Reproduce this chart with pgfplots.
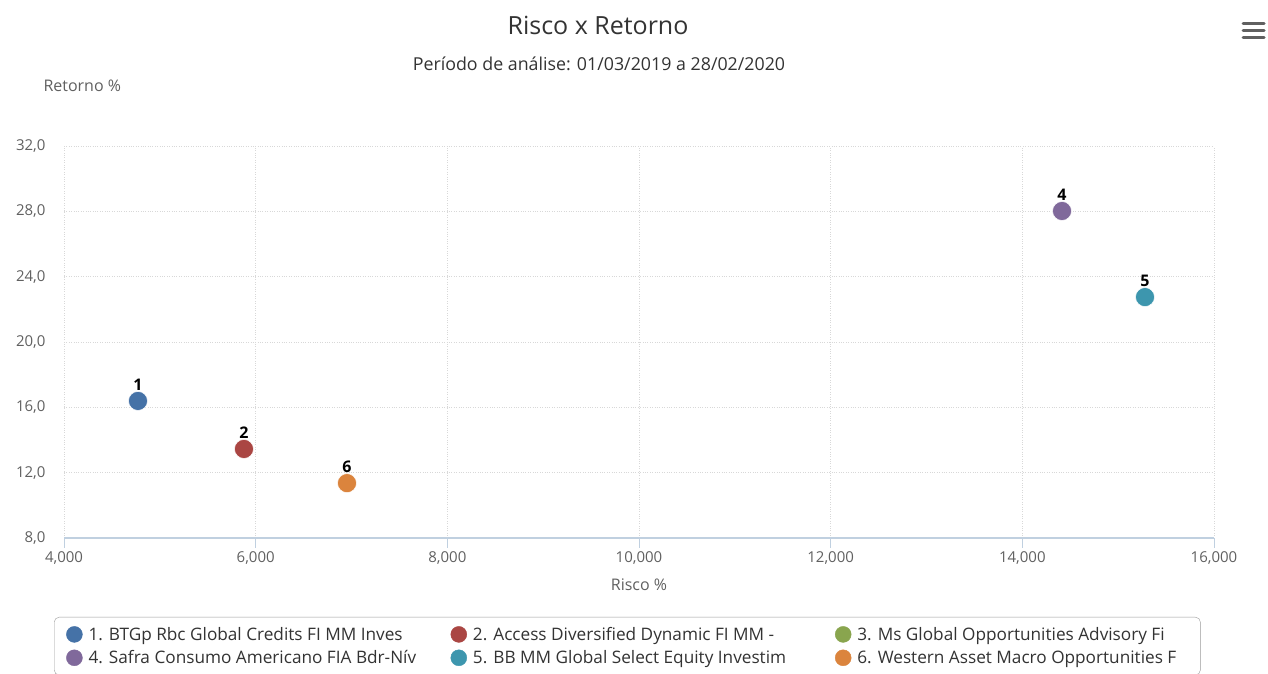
\documentclass[border=0pt]{standalone}
\usepackage{fontspec}
\setmainfont{Open Sans}
\usepackage{pgfplots}
\pgfplotsset{compat=1.18}

\definecolor{sA}{HTML}{4572A7}
\definecolor{sB}{HTML}{AA4643}
\definecolor{sC}{HTML}{89A54E}
\definecolor{sD}{HTML}{80699B}
\definecolor{sE}{HTML}{3D96AE}
\definecolor{sF}{HTML}{DB843D}
\definecolor{txtdark}{HTML}{333333}
\definecolor{txtgray}{HTML}{606060}
\definecolor{gridc}{HTML}{D8D8D8}
\definecolor{axisc}{HTML}{C0D0E0}
\definecolor{legbox}{HTML}{999999}

\newcommand{\fs}[1]{\fontsize{#1bp}{#1bp}\selectfont}

\begin{document}
\begin{tikzpicture}[x=1bp,y=1bp]
\useasboundingbox (0,0) rectangle (1268,674);

% titles
\node[font=\fs{25}, text=txtdark] at (598,649) {Risco x Retorno};
\node[font=\fs{17.8}, text=txtdark] at (599,610) {Período de análise: 01/03/2019 a 28/02/2020};

% menu icon
\foreach \yy in {650,643,636}
  \draw[line width=3bp, line cap=round, color=txtgray] (1243,\yy) -- (1264,\yy);

\begin{axis}[
  at={(64bp,136bp)}, anchor=south west,
  scale only axis, width=1150bp, height=392bp,
  xmin=4, xmax=16, ymin=8, ymax=32,
  xtick={4,6,...,16}, ytick={12,16,...,32},
  extra y ticks={8}, extra y tick style={grid=none},
  grid=major,
  major grid style={dotted, color=gridc, line width=0.8bp},
  axis lines*=left,
  x axis line style={draw=axisc, line width=1.2bp},
  y axis line style={draw=none},
  tick align=outside,
  major tick length=10bp,
  xtick style={draw=axisc, line width=1bp},
  ytick style={draw=none},
  xticklabel style={font=\fs{15}, text=txtgray,
    /pgf/number format/.cd, fixed, fixed zerofill, precision=3, use comma, assume math mode=true},
  yticklabel style={font=\fs{15}, text=txtgray, xshift=-5bp,
    /pgf/number format/.cd, fixed, fixed zerofill, precision=1, use comma, assume math mode=true},
  xlabel={Risco \%},
  xlabel style={font=\fs{16}, text=txtgray, at={(rel axis cs:0.5,0)}, anchor=center, yshift=-47bp},
  ylabel={Retorno \%},
  ylabel style={font=\fs{16}, text=txtgray, rotate=-90, at={(rel axis cs:0,1)}, anchor=west, xshift=-24bp, yshift=60bp},
  clip=false,
  every node near coord/.append style={font=\bfseries\fs{16}, text=black, anchor=south, inner sep=0pt, yshift=10bp},
  legend columns=3,
  legend image code/.code={\fill[#1] (0bp,0bp) circle (8bp);},
  legend style={at={(rel axis cs:0,0)}, anchor=north west, xshift=-10bp, yshift=-79bp,
    draw=legbox, rounded corners=5bp, font=\fs{17.2}, text=txtdark,
    inner xsep=12bp, inner ysep=9bp, column sep=6bp, row sep=7bp,
    nodes={inner sep=0pt}},
  legend cell align=left,
]
\addplot[only marks, mark=*, color=sA, mark size=9.5bp, mark options={draw=white, line width=0.5bp}, nodes near coords={1}]
  coordinates {(4.772,16.39)};
\addlegendentry{\makebox[356bp][l]{1. BTGp Rbc Global Credits FI MM Inves}}
\addplot[only marks, mark=*, color=sB, mark size=9.5bp, mark options={draw=white, line width=0.5bp}, nodes near coords={2}]
  coordinates {(5.878,13.45)};
\addlegendentry{\makebox[356bp][l]{2. Access Diversified Dynamic FI MM -}}
\addlegendimage{color=sC}
\addlegendentry{\makebox[331bp][l]{3. Ms Global Opportunities Advisory Fi}}
\addplot[only marks, mark=*, color=sD, mark size=9.5bp, mark options={draw=white, line width=0.5bp}, nodes near coords={4}]
  coordinates {(14.414,28.02)};
\addlegendentry{\makebox[356bp][l]{4. Safra Consumo Americano FIA Bdr-Nív}}
\addplot[only marks, mark=*, color=sE, mark size=9.5bp, mark options={draw=white, line width=0.5bp}, nodes near coords={5}]
  coordinates {(15.280,22.75)};
\addlegendentry{\makebox[356bp][l]{5. BB MM Global Select Equity Investim}}
\addplot[only marks, mark=*, color=sF, mark size=9.5bp, mark options={draw=white, line width=0.5bp}, nodes near coords={6}]
  coordinates {(6.953,11.36)};
\addlegendentry{\makebox[331bp][l]{6. Western Asset Macro Opportunities F}}
\end{axis}
\end{tikzpicture}
\end{document}
